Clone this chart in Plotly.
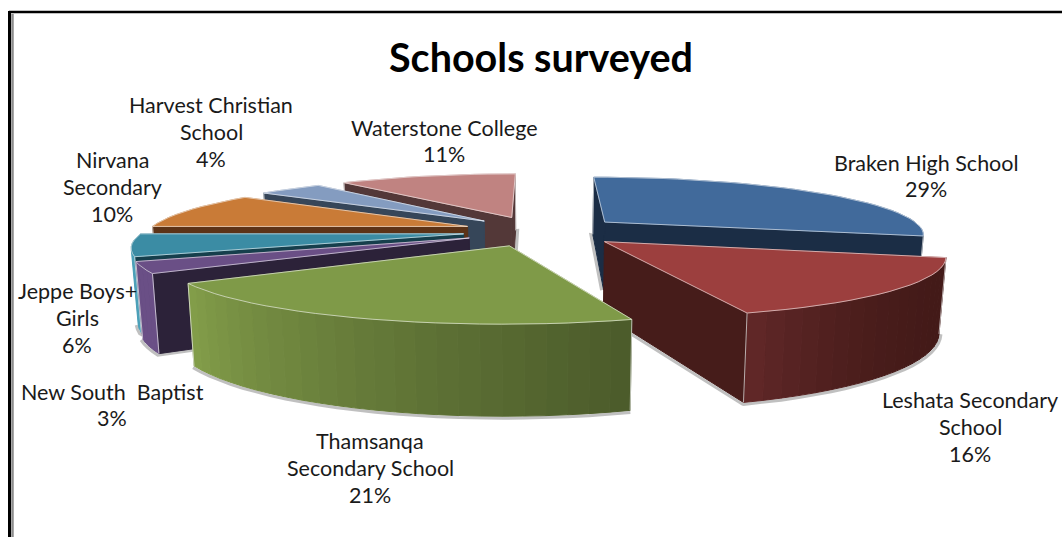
import math
import plotly.graph_objects as go

# Survey shares, clockwise from twelve o'clock
schools = ["Braken High School", "Leshata Secondary<br>School", "Thamsanqa<br>Secondary School",
           "New South  Baptist", "Jeppe Boys+<br>Girls", "Nirvana<br>Secondary",
           "Harvest Christian<br>School", "Waterstone College"]
shares = [29, 16, 21, 3, 6, 10, 4, 11]
chart_title = "Schools surveyed"

# Slice styling
top_colors = ["#416A9B", "#9C3F3E", "#7F9A48", "#6A4F86", "#3B8CA4", "#C97B37", "#849CC0", "#C08381"]
cut_colors = ["#1B2D45", "#461C1A", "#5A6E32", "#2C2239", "#163F4C", "#5C3317", "#364659", "#533838"]
rim_start = ["#1B2D45", "#431A18", "#4C5C2B", "#6A4F86", "#4BA0B8", "#5C3317", "#364659", "#533838"]
rim_end = ["#1B2D45", "#602727", "#829D49", "#6A4F86", "#4BA0B8", "#5C3317", "#364659", "#533838"]
rim_gamma = [1, 3, 1.1, 1, 1, 1, 1, 1]
paint_order = [0, 7, 6, 5, 4, 3, 1, 2]
label_xy = [(926, 176), (970, 427), (370, 468), (112, 405), (77, 318), (112, 187), (211, 132), (444, 141)]
LINE_GAP = 26.6

# Projection of the exploded pie; sideways pull differs per slice
CX, HORIZON, CAM_H, THICK = 535, -64, 295, 70
RADIUS, PERSP, BASE_SHRINK = 320, 0.0006, 0.983
pull_x = [91, 92, 72, 72, 72, 72, 72, 72]
PULL_D = 85


def hex_mix(a, b, t):
    ca = [int(a[i:i + 2], 16) for i in (1, 3, 5)]
    cb = [int(b[i:i + 2], 16) for i in (1, 3, 5)]
    return "#%02X%02X%02X" % tuple(round(u + (v - u) * t) for u, v in zip(ca, cb))


def project(world_x, depth, lower=False):
    s = 1 / (1 + PERSP * depth)
    if lower:
        return CX + world_x * s * BASE_SHRINK, HORIZON + (CAM_H + THICK) * s
    return CX + world_x * s, HORIZON + CAM_H * s


def quad_area(p):
    return sum(p[i][0] * p[(i + 1) % len(p)][1] - p[(i + 1) % len(p)][0] * p[i][1] for i in range(len(p)))


fig = go.Figure()


def polygon(points, color):
    fig.add_trace(go.Scatter(x=[p[0] for p in points] + [points[0][0]],
                             y=[p[1] for p in points] + [points[0][1]],
                             mode="lines", fill="toself", fillcolor=color,
                             line=dict(color=color, width=1), hoverinfo="skip", showlegend=False))


def polyline(points, color, width):
    fig.add_trace(go.Scatter(x=[p[0] for p in points], y=[p[1] for p in points], mode="lines",
                             line=dict(color=color, width=width), hoverinfo="skip", showlegend=False))


total = sum(shares)
spans = []
cursor = 0
for value in shares:
    spans.append((cursor / total * 2 * math.pi, (cursor + value) / total * 2 * math.pi))
    cursor += value

for idx in paint_order:
    a0, a1 = spans[idx]
    mid = (a0 + a1) / 2
    ox, od = pull_x[idx] * math.sin(mid), PULL_D * math.cos(mid)
    steps = max(4, int((a1 - a0) / math.radians(3)))
    world = [(ox, od)]
    for k in range(steps + 1):
        a = a0 + (a1 - a0) * k / steps
        world.append((ox + RADIUS * math.sin(a), od + RADIUS * math.cos(a)))
    upper = [project(*w) for w in world]
    lower = [project(*w, lower=True) for w in world]
    n = len(world)

    # Walls that face the viewer, with a soft shadow along their foot
    walls = []
    for i in range(n):
        j = (i + 1) % n
        q = [upper[i], upper[j], lower[j], lower[i]]
        if quad_area(q) < 0:
            walls.append((i, j, q))
    shadow_path = []
    for i, j, q in walls:
        dx, dy = lower[j][0] - lower[i][0], lower[j][1] - lower[i][1]
        length = math.hypot(dx, dy) or 1
        nx, ny = dy / length * 2, -dx / length * 2
        shadow_path += [(lower[i][0] + nx, lower[i][1] + ny), (lower[j][0] + nx, lower[j][1] + ny)]
    if shadow_path:
        polyline(shadow_path, "rgba(90,90,90,0.38)", 3)
    for i, j, q in walls:
        if i == 0 or j == 0:
            polygon(q, cut_colors[idx])
        else:
            t = ((i - 1) / max(1, steps - 1)) ** rim_gamma[idx]
            polygon(q, hex_mix(rim_start[idx], rim_end[idx], t))
    for k in sorted({1, n - 1} & {v for i, j, _ in walls for v in (i, j)}):
        polyline([upper[k], lower[k]], "rgba(235,235,235,0.7)", 1)

    polygon(upper, top_colors[idx])
    polyline([upper[i] for i in range(n)] + [upper[0]], "rgba(245,245,245,0.6)", 1)

annotations = []
for name, value, (x, y) in zip(schools, shares, label_xy):
    rows = name.split("<br>") + [f"{value}%"]
    for r, row in enumerate(rows):
        annotations.append(dict(x=x, y=y + (r - (len(rows) - 1) / 2) * LINE_GAP, xref="x", yref="y", text=row,
                                showarrow=False, font=dict(family="Lato", size=21.5, color="#1A1A1A")))
annotations.append(dict(x=541, y=56, xref="x", yref="y", text=f"<b>{chart_title}</b>", showarrow=False,
                        font=dict(family="Lato", size=39.5, color="#000000")))

frame = [
    dict(type="line", xref="x", yref="y", x0=9, x1=1062, y0=12, y1=12, line=dict(color="#000000", width=2.5)),
    dict(type="line", xref="x", yref="y", x0=9.5, x1=9.5, y0=11, y1=537, line=dict(color="#000000", width=3)),
    dict(type="line", xref="x", yref="y", x0=12.5, x1=12.5, y0=14, y1=537, line=dict(color="#8C8C8C", width=2.5)),
]

fig.update_layout(width=1062, height=537, margin=dict(l=0, r=0, t=0, b=0), paper_bgcolor="#FFFFFF",
                  plot_bgcolor="#FFFFFF", showlegend=False, annotations=annotations, shapes=frame,
                  xaxis=dict(range=[0, 1062], visible=False, fixedrange=True),
                  yaxis=dict(range=[537, 0], visible=False, fixedrange=True))
fig.write_html("out.html", config=dict(displayModeBar=False))
